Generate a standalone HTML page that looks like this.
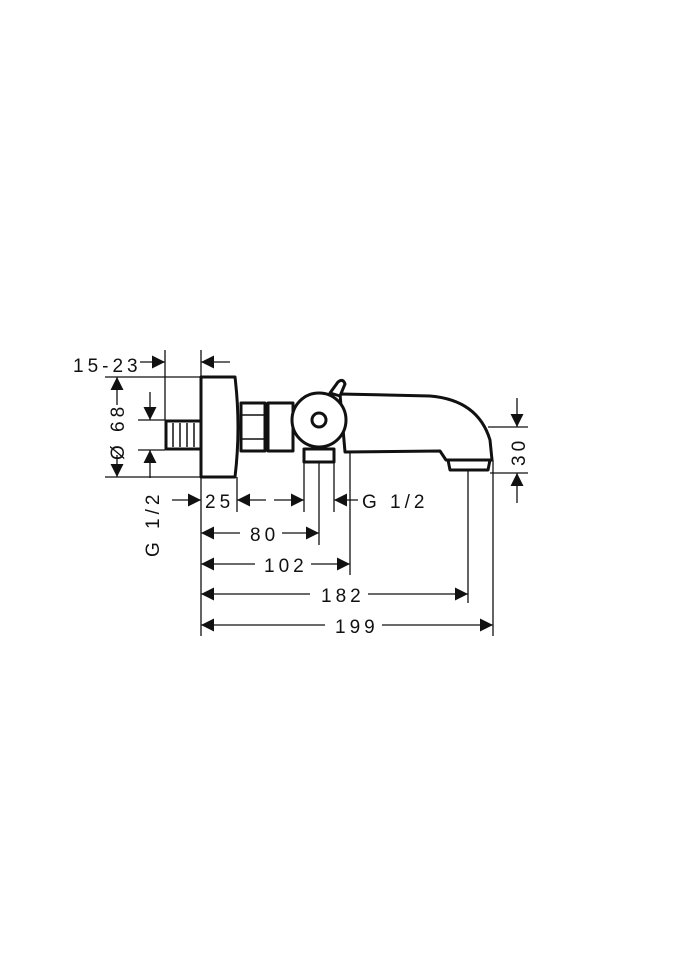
<!DOCTYPE html>
<html><head><meta charset="utf-8"><style>html,body{margin:0;padding:0;background:#fff}svg{display:block}text{font-family:"Liberation Sans",sans-serif;font-size:19px;fill:#111;letter-spacing:4px}</style></head>
<body>
<svg width="675" height="960" viewBox="0 0 675 960" xmlns="http://www.w3.org/2000/svg">
<defs>
<marker id="a" viewBox="0 0 10 10" refX="10" refY="5" markerWidth="13" markerHeight="13" markerUnits="userSpaceOnUse" orient="auto-start-reverse"><path d="M0,0L10,5L0,10z" fill="#111"/></marker>
</defs>
<g stroke="#111" stroke-width="1.3" fill="none">
<line x1="165" y1="350" x2="165" y2="420"/>
<line x1="201" y1="350" x2="201" y2="636"/>
<line x1="105" y1="377" x2="201" y2="377"/>
<line x1="105" y1="477" x2="201" y2="477"/>
<line x1="138" y1="420" x2="165" y2="420"/>
<line x1="138" y1="450" x2="165" y2="450"/>
<line x1="237" y1="477" x2="237" y2="512"/>
<line x1="304" y1="462" x2="304" y2="512"/>
<line x1="319" y1="462" x2="319" y2="545"/>
<line x1="334" y1="462" x2="334" y2="512"/>
<line x1="350" y1="420" x2="350" y2="575"/>
<line x1="468" y1="470" x2="468" y2="603"/>
<line x1="493" y1="460" x2="493" y2="636"/>
<line x1="488" y1="427" x2="528" y2="427"/>
<line x1="490" y1="473" x2="528" y2="473"/>
<line x1="140" y1="362" x2="165" y2="362" marker-end="url(#a)"/>
<line x1="230" y1="362" x2="201" y2="362" marker-end="url(#a)"/>
<line x1="117" y1="405" x2="117" y2="377" marker-end="url(#a)"/>
<line x1="117" y1="455" x2="117" y2="477" marker-end="url(#a)"/>
<line x1="150" y1="392" x2="150" y2="420" marker-end="url(#a)"/>
<line x1="150" y1="478" x2="150" y2="450" marker-end="url(#a)"/>
<line x1="172" y1="500" x2="201" y2="500" marker-end="url(#a)"/>
<line x1="266" y1="500" x2="237" y2="500" marker-end="url(#a)"/>
<line x1="274" y1="500" x2="304" y2="500" marker-end="url(#a)"/>
<line x1="358" y1="500" x2="334" y2="500" marker-end="url(#a)"/>
<line x1="240" y1="533" x2="201" y2="533" marker-end="url(#a)"/>
<line x1="282" y1="533" x2="319" y2="533" marker-end="url(#a)"/>
<line x1="255" y1="564" x2="201" y2="564" marker-end="url(#a)"/>
<line x1="311" y1="564" x2="350" y2="564" marker-end="url(#a)"/>
<line x1="310" y1="594" x2="201" y2="594" marker-end="url(#a)"/>
<line x1="368" y1="594" x2="468" y2="594" marker-end="url(#a)"/>
<line x1="325" y1="625" x2="201" y2="625" marker-end="url(#a)"/>
<line x1="382" y1="625" x2="493" y2="625" marker-end="url(#a)"/>
<line x1="517" y1="398" x2="517" y2="427" marker-end="url(#a)"/>
<line x1="517" y1="503" x2="517" y2="473" marker-end="url(#a)"/>
</g>
<g stroke="#111" stroke-width="3" fill="#fff" stroke-linejoin="round">
<path d="M340,394 L430,396 Q478,400 490,440 L492,460 L446,460 L440,451 L345,452 Z"/>
<path d="M448,460 L490,460 L488,470 L450,470 Z"/>
<rect x="166" y="421" width="35" height="28"/>
<path d="M201,377 L235,377 Q241,427 235,477 L201,477 Z"/>
<rect x="241" y="403" width="24" height="48"/>
<rect x="268" y="403" width="25" height="48"/>
<rect x="304" y="449" width="30" height="13"/>
<path d="M330,393 L338,382 Q343,378 345,384 L340,396 Z"/>
<circle cx="319" cy="420" r="27"/>
<circle cx="319" cy="420" r="7"/>
</g>
<g stroke="#111" stroke-width="1.5">
<line x1="241" y1="415" x2="265" y2="415"/><line x1="241" y1="439" x2="265" y2="439"/>
<line x1="173" y1="423" x2="173" y2="447"/><line x1="180" y1="423" x2="180" y2="447"/><line x1="187" y1="423" x2="187" y2="447"/><line x1="194" y1="423" x2="194" y2="447"/>
</g>
<text x="73" y="372">15-23</text>
<text x="205" y="508">25</text>
<text x="362" y="508">G 1/2</text>
<text x="250" y="541">80</text>
<text x="264" y="572">102</text>
<text x="321" y="602">182</text>
<text x="335" y="633">199</text>
<text transform="translate(124,460) rotate(-90)">Ø 68</text>
<text transform="translate(159,557) rotate(-90)">G 1/2</text>
<text transform="translate(525,466) rotate(-90)">30</text>
</svg>
</body></html>
